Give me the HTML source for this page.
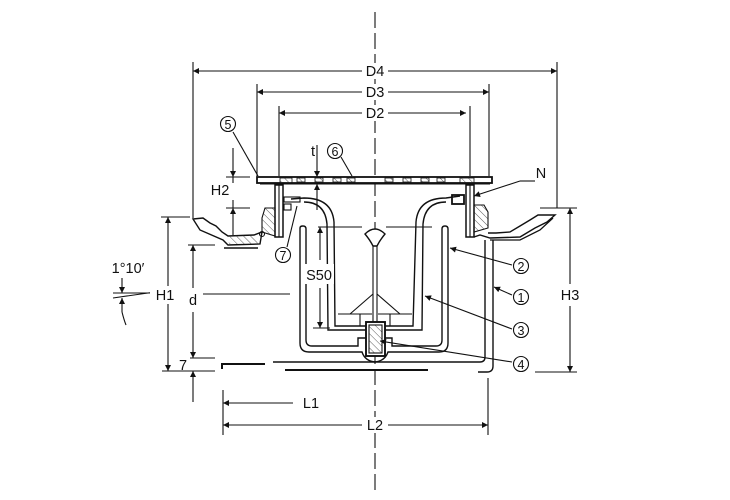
<!DOCTYPE html>
<html><head><meta charset="utf-8"><style>
html,body{margin:0;padding:0;background:#fff;}
svg{display:block}
text{font-family:"Liberation Sans",sans-serif;fill:#111;}
</style></head><body>
<svg width="730" height="500" viewBox="0 0 730 500" xmlns="http://www.w3.org/2000/svg">
<defs>
<marker id="a" viewBox="0 0 10 10" refX="10" refY="5" markerWidth="11" markerHeight="6" orient="auto-start-reverse" markerUnits="userSpaceOnUse"><path d="M0,0L10,5L0,10z" fill="#111"/></marker>
<pattern id="h" width="5" height="5" patternUnits="userSpaceOnUse" patternTransform="rotate(-45)"><line x1="0" y1="0" x2="0" y2="5" stroke="#333" stroke-width="0.8"/></pattern>
</defs>
<g stroke="#111" stroke-width="1.1" fill="none">
<!-- centerline -->
<line x1="375" y1="12" x2="375" y2="492" stroke-dasharray="16,5"/>
<!-- dimension extension lines -->
<line x1="193" y1="62" x2="193" y2="218"/>
<line x1="557" y1="62" x2="557" y2="208"/>
<line x1="257" y1="84" x2="257" y2="176"/>
<line x1="489" y1="84" x2="489" y2="176"/>
<line x1="279" y1="106" x2="279" y2="176"/>
<line x1="470" y1="106" x2="470" y2="176"/>
<!-- D dims -->
<line x1="193" y1="71" x2="362" y2="71" marker-start="url(#a)"/><line x1="388" y1="71" x2="557" y2="71" marker-end="url(#a)"/>
<line x1="257" y1="92" x2="362" y2="92" marker-start="url(#a)"/><line x1="388" y1="92" x2="489" y2="92" marker-end="url(#a)"/>
<line x1="279" y1="113" x2="362" y2="113" marker-start="url(#a)"/><line x1="388" y1="113" x2="466" y2="113" marker-end="url(#a)"/>
<!-- H2 -->
<line x1="226" y1="177" x2="250" y2="177"/><line x1="226" y1="208" x2="250" y2="208"/>
<line x1="233" y1="148" x2="233" y2="177" marker-end="url(#a)"/>
<line x1="233" y1="177" x2="233" y2="183"/>
<line x1="233" y1="200" x2="233" y2="208"/>
<line x1="233" y1="235" x2="233" y2="208" marker-end="url(#a)"/>
<!-- t -->
<line x1="317" y1="145" x2="317" y2="177" marker-end="url(#a)"/>
<line x1="317" y1="210" x2="317" y2="184" marker-end="url(#a)"/>
<!-- H1 -->
<line x1="161" y1="217" x2="190" y2="217"/>
<line x1="162" y1="371" x2="215" y2="371"/>
<line x1="168" y1="217" x2="168" y2="286" marker-start="url(#a)"/>
<line x1="168" y1="304" x2="168" y2="371" marker-end="url(#a)"/>
<!-- d -->
<line x1="188" y1="245" x2="215" y2="245"/>
<line x1="190" y1="358" x2="215" y2="358"/>
<line x1="193" y1="245" x2="193" y2="288" marker-start="url(#a)"/>
<line x1="193" y1="312" x2="193" y2="358" marker-end="url(#a)"/>
<line x1="193" y1="371" x2="193" y2="402" marker-start="url(#a)"/>
<line x1="203" y1="294" x2="290" y2="294"/>
<!-- angle -->
<line x1="113" y1="293" x2="155" y2="293"/><line x1="113" y1="298" x2="155" y2="292"/>
<line x1="122" y1="278" x2="122" y2="293" marker-end="url(#a)"/>
<line x1="122" y1="312" x2="122" y2="298" marker-end="url(#a)"/>
<path d="M122,312 Q124,320 126,325"/>
<!-- H3 -->
<line x1="540" y1="208" x2="577" y2="208"/>
<line x1="535" y1="372" x2="577" y2="372"/>
<line x1="570" y1="208" x2="570" y2="284" marker-start="url(#a)"/>
<line x1="570" y1="306" x2="570" y2="372" marker-end="url(#a)"/>
<!-- L dims -->
<line x1="223" y1="390" x2="223" y2="435"/>
<line x1="488" y1="378" x2="488" y2="435"/>
<line x1="223" y1="403" x2="293" y2="403" marker-start="url(#a)"/>
<line x1="223" y1="425" x2="362" y2="425" marker-start="url(#a)"/>
<line x1="388" y1="425" x2="488" y2="425" marker-end="url(#a)"/>
<!-- grate -->
<rect x="257" y="177" width="235" height="6" stroke-width="1.8" fill="#fff"/>
<g fill="url(#h)" stroke-width="0.8">
<rect x="280" y="178" width="12" height="5"/><rect x="297" y="178" width="8" height="4"/><rect x="315" y="178" width="8" height="4"/><rect x="333" y="178" width="8" height="4"/><rect x="347" y="178" width="8" height="4"/><rect x="385" y="178" width="8" height="4"/><rect x="403" y="178" width="8" height="4"/><rect x="421" y="178" width="8" height="4"/><rect x="437" y="178" width="8" height="4"/><rect x="460" y="178" width="14" height="5"/>
</g>
<line x1="260" y1="184" x2="490" y2="184"/>
<!-- frame left -->
<rect x="275" y="185" width="8" height="52" stroke-width="1.5"/>
<line x1="279" y1="185" x2="279" y2="237"/>
<path d="M275,208 L265,208 L262,218 L262,232 L275,236z" fill="url(#h)"/>
<rect x="284" y="197" width="16" height="5"/>
<rect x="284" y="204" width="7" height="6"/>
<!-- frame right -->
<rect x="466" y="185" width="8" height="52" stroke-width="1.5"/>
<line x1="470" y1="185" x2="470" y2="237"/>
<path d="M474,205 L484,205 L488,212 L488,228 L474,232z" fill="url(#h)"/>
<rect x="452" y="195" width="12" height="9" stroke-width="1.8"/>
<!-- left flange -->
<path d="M193,219 L203,218 L210,223 L216,226 L222,232 L228,236 L254,235 L262,232 L260,244 L228,245 L223,240 L200,230 z" stroke-width="1.4"/>
<path d="M228,236 L254,235 L258,244 L229,244z" fill="url(#h)" stroke="none"/>
<line x1="224" y1="248" x2="258" y2="248" stroke-width="1.4"/>
<circle cx="262" cy="234" r="2.5"/>
<!-- right flange -->
<path d="M474,237 L480,235 L490,238 L520,237 L535,228 L547,222 L555,215 L538,215 L530,220 L520,226 L510,232 L496,233 L488,233" stroke-width="1.4"/>
<path d="M490,240 L520,240 L540,230 L553,218" stroke-width="1.3"/>
<!-- body walls -->
<path d="M485,240 L485,357 Q485,362 480,362 L273,362" stroke-width="1.4"/>
<path d="M493,240 L493,366 Q493,372 487,372 L478,372" stroke-width="1.4"/>
<path d="M222,369 L222,364 L265,364" stroke-width="2"/>
<line x1="285" y1="370" x2="428" y2="370" stroke-width="2"/>
<!-- bucket (2) -->
<path d="M300,228 Q300,226 303,226 Q306,226 306,229 L306,340 Q306,346 312,346 L358,346 L358,338 L392,338 L392,346 L436,346 Q442,346 442,340 L442,229 Q442,226 445,226 Q448,226 448,229 L448,343 Q448,352 439,352 L388,352 Q385,361 375,362 Q365,361 362,352 L309,352 Q300,352 300,343 Z" stroke-width="1.4"/>
<!-- bell (3) -->
<path d="M291,199 L304,198 Q332,198 334,222 L335,326 L413,326 L416,222 Q418,198 446,198 L460,196" stroke-width="1.4"/>
<path d="M304,202 Q325,202 327,224 L328,330 L422,330 L423,224 Q425,202 446,202" stroke-width="1.4"/>
<line x1="338" y1="314" x2="412" y2="314"/>
<line x1="360" y1="314" x2="360" y2="326"/><line x1="390" y1="314" x2="390" y2="326"/>
<!-- S50 -->
<line x1="318" y1="227" x2="362" y2="227"/><line x1="386" y1="227" x2="432" y2="227"/>
<line x1="313" y1="328" x2="330" y2="328"/>
<line x1="320" y1="260" x2="320" y2="227" marker-end="url(#a)"/>
<line x1="320" y1="288" x2="320" y2="328" marker-end="url(#a)"/>
<!-- float rod -->
<rect x="372" y="246" width="6" height="76" fill="#fff" stroke="none"/>
<path d="M365,234 Q375,224 385,234 Q380,240 377,246 L373,246 Q370,240 365,234z" stroke-width="1.4" fill="#fff"/>
<line x1="373" y1="246" x2="373" y2="322"/><line x1="377" y1="246" x2="377" y2="322"/>
<line x1="373" y1="294" x2="350" y2="314"/><line x1="377" y1="294" x2="400" y2="314"/>
<rect x="366" y="322" width="19" height="34" stroke-width="1.9" fill="#fff"/>
<rect x="369" y="325" width="13" height="28" fill="url(#h)"/>
<!-- leaders -->
<line x1="233" y1="132" x2="258" y2="176"/>
<line x1="341" y1="157" x2="352" y2="176"/>
<line x1="287" y1="247" x2="297" y2="206"/>
<line x1="520" y1="181" x2="535" y2="181"/>
<line x1="520" y1="181" x2="474" y2="196" marker-end="url(#a)"/>
<line x1="512" y1="265" x2="450" y2="248" marker-end="url(#a)"/>
<line x1="512" y1="295" x2="494" y2="287" marker-end="url(#a)"/>
<line x1="512" y1="329" x2="425" y2="296" marker-end="url(#a)"/>
<line x1="512" y1="362" x2="380" y2="341" marker-end="url(#a)"/>
<!-- circles -->
<g fill="#fff">
<circle cx="228" cy="124" r="7.5"/><circle cx="335" cy="151" r="7.5"/><circle cx="283" cy="255" r="7.5"/>
<circle cx="521" cy="266" r="7.5"/><circle cx="521" cy="297" r="7.5"/><circle cx="521" cy="330" r="7.5"/><circle cx="521" cy="364" r="7.5"/>
</g>
</g>
<!-- label backgrounds -->
<g fill="#fff">
<rect x="362" y="63" width="26" height="16"/><rect x="362" y="84" width="26" height="16"/><rect x="362" y="105" width="26" height="16"/>
<rect x="362" y="417" width="26" height="16"/><rect x="150" y="286" width="28" height="17"/><rect x="186" y="290" width="14" height="22"/>
<rect x="555" y="286" width="28" height="18"/><rect x="304" y="264" width="30" height="20"/>
</g>
<g font-size="14.5" text-anchor="middle">
<text x="375" y="76">D4</text>
<text x="375" y="97">D3</text><text x="375" y="118">D2</text>
<text x="220" y="195">H2</text>
<text x="313" y="156">t</text>
<text x="165" y="300">H1</text>
<text x="193" y="305">d</text>
<text x="183" y="370">7</text>
<text x="128" y="273">1°10′</text>
<text x="570" y="300">H3</text>
<text x="311" y="408">L1</text>
<text x="375" y="430">L2</text>
<text x="319" y="280">S50</text>
<text x="541" y="178">N</text>
</g>
<g font-size="12.5" text-anchor="middle">
<text x="228" y="129">5</text><text x="335" y="156">6</text><text x="283" y="260">7</text>
<text x="521" y="271">2</text><text x="521" y="302">1</text><text x="521" y="335">3</text><text x="521" y="369">4</text>
</g>
</svg>
</body></html>
